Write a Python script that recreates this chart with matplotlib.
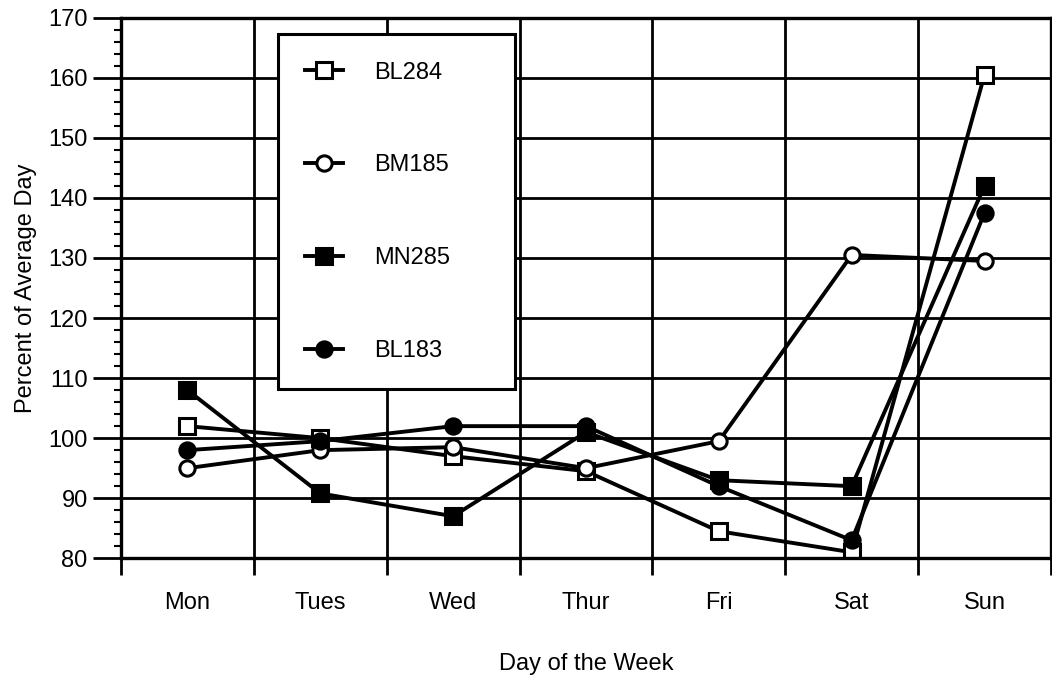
import matplotlib
matplotlib.use("Agg")
from matplotlib import pyplot as plt
from matplotlib.ticker import MultipleLocator, FixedLocator

plt.rcParams['font.family'] = ['Liberation Sans', 'DejaVu Sans']

days = ["Mon", "Tues", "Wed", "Thur", "Fri", "Sat", "Sun"]
bl284 = [102, 100, 97, 94.5, 84.5, 81, 160.5]
bm185 = [95, 98, 98.5, 95, 99.5, 130.5, 129.5]
mn285 = [108, 90.8, 87, 101, 93, 92, 142]
bl183 = [98, 99.5, 102, 102, 92, 83, 137.5]

series = [
    ("BL284", bl284, "s", "white"),
    ("BM185", bm185, "o", "white"),
    ("MN285", mn285, "s", "black"),
    ("BL183", bl183, "o", "black"),
]

fig = plt.figure(figsize=(10.52, 6.8), dpi=100)
ax = fig.add_axes([0.115, 0.179, 0.884, 0.795])

x = list(range(len(days)))
for name, vals, mk, fc in series:
    ax.plot(x, vals, color="black", lw=2.8, marker=mk, markersize=11,
            markerfacecolor=fc, markeredgecolor="black", markeredgewidth=2.2,
            label=name)

ax.set_xlim(-0.5, 6.5)
ax.set_ylim(80, 170)
ax.xaxis.set_major_locator(FixedLocator(x))
ax.set_xticklabels(days)
ax.xaxis.set_minor_locator(FixedLocator([i - 0.5 for i in range(8)]))
ax.yaxis.set_major_locator(MultipleLocator(10))
ax.yaxis.set_minor_locator(MultipleLocator(2))

ax.tick_params(axis="x", which="major", length=0, pad=24, labelsize=17)
ax.tick_params(axis="x", which="minor", direction="out", length=12, width=2)
ax.tick_params(axis="y", which="major", direction="out", length=20, width=2,
               pad=4, labelsize=17)
ax.tick_params(axis="y", which="minor", direction="out", length=5, width=1.5)

ax.grid(True, axis="y", which="major", color="black", lw=2)
ax.grid(True, axis="x", which="minor", color="black", lw=2)
for s in ax.spines.values():
    s.set_linewidth(2.4)

ax.set_xlabel("Day of the Week", fontsize=17, labelpad=28)
ax.set_ylabel("Percent of Average Day", fontsize=17, labelpad=8)

leg = ax.legend(loc="upper left", bbox_to_anchor=(0.169, 0.969, 0.255, 0.0),
                mode="expand", borderaxespad=0, fontsize=17, labelspacing=3.0,
                handlelength=1.6, handletextpad=1.3, borderpad=1.15,
                fancybox=False, framealpha=1, edgecolor="black")
leg.get_frame().set_linewidth(2.2)

fig.savefig("out.png", dpi=100)
